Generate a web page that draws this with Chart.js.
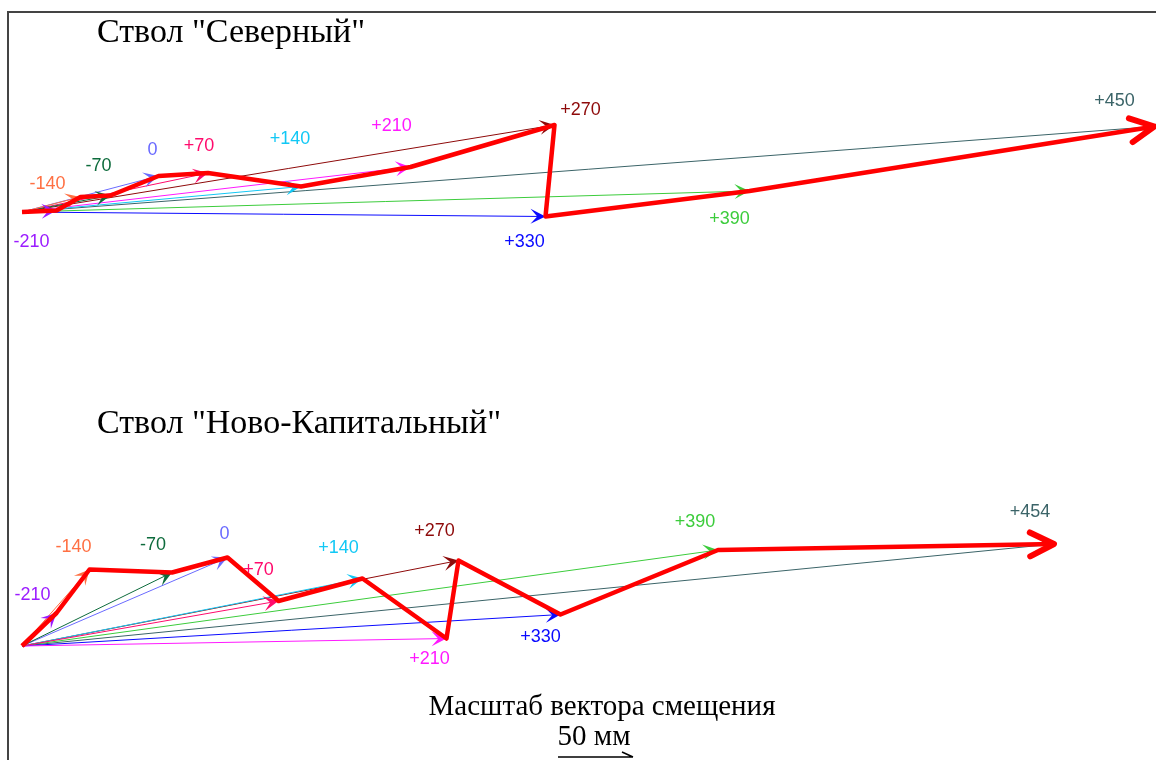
<!DOCTYPE html>
<html>
<head>
<meta charset="utf-8">
<script src="https://cdn.jsdelivr.net/npm/chart.js@4.4.1/dist/chart.umd.min.js"></script>
<style>
  html, body { margin: 0; padding: 0; background: #fff; }
  #wrap { width: 1156px; height: 760px; }
</style>
</head>
<body>
<div id="wrap"><canvas id="vectors" width="1156" height="760"></canvas></div>
<script>
// горизонты (отметки), мм смещения по X и Y относительно устья
const levelsNorth = ['-210', '-140', '-70', '0', '+70', '+140', '+210', '+270', '+330', '+390', '+450'];
const northDx = [23, 39, 59, 91, 124, 186, 259, 355, 349, 485, 755];
const northDy = [1, 10, 11, 24, 26, 17, 30, 58, -3, 14, 57];

const levelsKap = ['-210', '-140', '-70', '0', '+70', '+140', '+210', '+270', '+330', '+390', '+454'];
const kapDx = [23, 45, 100, 137, 171, 227, 283, 291, 359, 464, 688];
const kapDy = [22, 51, 49, 59, 30, 45, 5, 57, 21, 64, 68];

const titles = ['Ствол "Северный"', 'Ствол "Ново-Капитальный"'];
const scaleLabel = 'Масштаб вектора смещения';
const scaleValue = 50; // мм

const levelColors = ['#9b1cff', '#ff7043', '#0d6b3c', '#6a6aff', '#ff0a6c', '#12c8f5',
                     '#ff19ff', '#8e0a0a', '#0a0aff', '#3ccc3c', '#3b6468'];

// подписи: смещение текста от конца вектора (px)
const offN = [[-25, 32], [-33, -13], [-12, -29], [-6, -26], [-9, -27], [-11, -47],
              [-19, -41], [26, -15], [-21, 26], [-20, 28], [-40, -25]];
const offK = [[-24, -18], [-16, -22], [-19, -27], [-3, -23], [-20, -31], [-24, -30],
              [-17, 21], [-24, -29], [-20, 23], [-23, -28], [-24, -32]];

let datasets = [];

function addGroup(levels, dx, dy, axis, offs) {
  let path = [{x: 0, y: 0}];
  for (let i = 0; i < levels.length; i++) {
    datasets.push({
      data: [{x: 0, y: 0}, {x: dx[i], y: dy[i]}],
      borderColor: levelColors[i],
      borderWidth: 1,
      pointRadius: 0,
      showLine: true,
      yAxisID: axis,
      order: 1,
      kind: 'vec',
      levelLabel: levels[i],
      labelOff: offs[i]
    });
    path.push({x: dx[i], y: dy[i]});
  }
  datasets.push({
    data: path,
    borderColor: '#ff0000',
    borderWidth: 4.5,
    borderJoinStyle: 'round',
    pointRadius: 0,
    showLine: true,
    yAxisID: axis,
    order: 0,
    kind: 'path'
  });
}
addGroup(levelsNorth, northDx, northDy, 'yN', offN);
addGroup(levelsKap, kapDx, kapDy, 'yK', offK);

function arrowHead(ctx, p0, p1, len, half, color) {
  const a = Math.atan2(p1.y - p0.y, p1.x - p0.x);
  ctx.save();
  ctx.translate(p1.x, p1.y);
  ctx.rotate(a);
  ctx.fillStyle = color;
  ctx.beginPath();
  ctx.moveTo(0, 0);
  ctx.lineTo(-len, -half);
  ctx.lineTo(-len * 0.55, 0);
  ctx.lineTo(-len, half);
  ctx.closePath();
  ctx.fill();
  ctx.restore();
}

const decor = {
  id: 'decor',
  afterDatasetDraw(chart, args) {
    const ds = chart.data.datasets[args.index];
    const pts = args.meta.data;
    const ctx = chart.ctx;
    const p0 = pts[pts.length - 2], p1 = pts[pts.length - 1];
    if (ds.kind === 'vec') {
      arrowHead(ctx, p0, p1, 15, 7.5, ds.borderColor);
    } else {
      // открытая стрелка в конце красной линии
      const a = Math.atan2(p1.y - p0.y, p1.x - p0.x);
      ctx.save();
      ctx.translate(p1.x, p1.y);
      ctx.rotate(a);
      ctx.strokeStyle = '#ff0000';
      ctx.lineWidth = 6;
      ctx.lineCap = 'round';
      ctx.lineJoin = 'round';
      ctx.beginPath();
      ctx.moveTo(-24, -12);
      ctx.lineTo(0, 0);
      ctx.lineTo(-24, 12);
      ctx.stroke();
      ctx.restore();
    }
  },
  afterDraw(chart) {
    const ctx = chart.ctx;
    ctx.save();
    // рамка
    ctx.strokeStyle = '#444';
    ctx.lineWidth = 2;
    ctx.beginPath();
    ctx.moveTo(8, 760);
    ctx.lineTo(8, 12);
    ctx.lineTo(1156, 12);
    ctx.stroke();

    // подписи горизонтов
    ctx.font = '18px "Liberation Sans", Arial, sans-serif';
    ctx.textAlign = 'center';
    ctx.textBaseline = 'middle';
    chart.data.datasets.forEach(function(ds, i) {
      if (ds.kind !== 'vec') return;
      const pts = chart.getDatasetMeta(i).data;
      const p = pts[pts.length - 1];
      ctx.fillStyle = ds.borderColor;
      ctx.fillText(ds.levelLabel, p.x + ds.labelOff[0], p.y + ds.labelOff[1]);
    });

    // заголовки
    ctx.fillStyle = '#000';
    ctx.textAlign = 'left';
    ctx.textBaseline = 'alphabetic';
    ctx.font = '34px "Liberation Serif", "Times New Roman", serif';
    ctx.fillText(titles[0], 97, 42);
    ctx.fillText(titles[1], 97, 433);

    // масштаб
    ctx.textAlign = 'center';
    ctx.font = '29px "Liberation Serif", "Times New Roman", serif';
    ctx.fillText(scaleLabel, 602, 715);
    ctx.fillText(scaleValue + ' мм', 594, 745);
    const xs = chart.scales.x;
    const x0 = 558, x1 = x0 + (xs.getPixelForValue(scaleValue) - xs.getPixelForValue(0));
    ctx.strokeStyle = '#000';
    ctx.lineWidth = 1.5;
    ctx.beginPath();
    ctx.moveTo(x0, 757);
    ctx.lineTo(x1, 757);
    ctx.moveTo(x1, 757);
    ctx.lineTo(x1 - 11, 752);
    ctx.stroke();
    ctx.restore();
  }
};

new Chart(document.getElementById('vectors').getContext('2d'), {
  type: 'scatter',
  data: { datasets: datasets },
  options: {
    responsive: false,
    animation: false,
    devicePixelRatio: 1,
    layout: { padding: 0 },
    plugins: { legend: { display: false }, tooltip: { enabled: false } },
    scales: {
      // 1 мм = 1.5 px, устье на x = 22 px
      x: { type: 'linear', display: false, min: -22 / 1.5, max: (1156 - 22) / 1.5 },
      yN: { type: 'linear', display: false, min: (212 - 760) / 1.5, max: 212 / 1.5 },
      yK: { type: 'linear', display: false, min: (646 - 760) / 1.5, max: 646 / 1.5 }
    }
  },
  plugins: [decor]
});
</script>
</body>
</html>
